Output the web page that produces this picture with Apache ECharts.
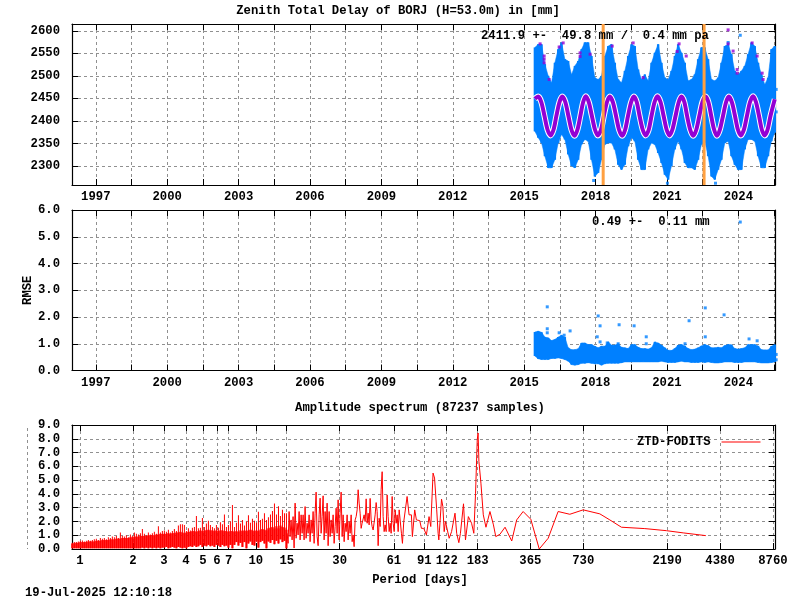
<!DOCTYPE html>
<html>
<head>
<meta charset="utf-8">
<style>
  html, body { margin: 0; padding: 0; background: #fff; }
  #chart { width: 800px; height: 600px; }
</style>
<script src="https://cdn.jsdelivr.net/npm/echarts@6/dist/echarts.min.js"></script>
</head>
<body>
<div id="chart"></div>
<script>
const YEAR_TICKS = [1997, 1998.5, 2000, 2001.5, 2003, 2004.5, 2006, 2007.5, 2009, 2010.5, 2012, 2013.5, 2015, 2016.5, 2018, 2019.5, 2021, 2022.5, 2024, 2025.5];
const YEAR_LABELS = [1997, 2000, 2003, 2006, 2009, 2012, 2015, 2018, 2021, 2024];
const ZTD_TICKS = [2300, 2350, 2400, 2450, 2500, 2550, 2600];
const RMSE_TICKS = [0, 1, 2, 3, 4, 5, 6];
const AMP_TICKS = [0, 1, 2, 3, 4, 5, 6, 7, 8, 9];
const PERIOD_TICKS = [1, 2, 3, 4, 5, 6, 7, 10, 15, 30, 61, 91, 122, 183, 365, 730, 2190, 4380, 8760];

const bandYears = [2015.45, 2015.59, 2015.73, 2015.87, 2016.01, 2016.15, 2016.29, 2016.43, 2016.57, 2016.71, 2016.85, 2016.99, 2017.13, 2017.27, 2017.41, 2017.55, 2017.69, 2017.83, 2017.97, 2018.11, 2018.25, 2018.39, 2018.53, 2018.67, 2018.81, 2018.95, 2019.09, 2019.23, 2019.37, 2019.51, 2019.65, 2019.79, 2019.93, 2020.07, 2020.21, 2020.35, 2020.49, 2020.63, 2020.77, 2020.91, 2021.05, 2021.19, 2021.33, 2021.47, 2021.61, 2021.75, 2021.89, 2022.03, 2022.17, 2022.31, 2022.45, 2022.59, 2022.73, 2022.87, 2023.01, 2023.15, 2023.29, 2023.43, 2023.57, 2023.71, 2023.85, 2023.99, 2024.13, 2024.27, 2024.41, 2024.55, 2024.69, 2024.83, 2024.97, 2025.11, 2025.25, 2025.39, 2025.53];
const ztdHigh = [2563, 2570, 2570, 2526, 2500, 2485, 2529, 2559, 2574, 2537, 2533, 2503, 2522, 2533, 2559, 2574, 2574, 2544, 2496, 2492, 2500, 2544, 2566, 2570, 2529, 2492, 2485, 2511, 2544, 2570, 2566, 2514, 2492, 2503, 2489, 2529, 2551, 2570, 2529, 2496, 2492, 2511, 2544, 2570, 2551, 2529, 2489, 2492, 2503, 2537, 2563, 2563, 2537, 2492, 2489, 2496, 2529, 2566, 2570, 2548, 2511, 2503, 2511, 2522, 2548, 2574, 2566, 2529, 2503, 2481, 2496, 2559, 2566];
const ztdLow = [2377, 2363, 2351, 2322, 2296, 2296, 2314, 2351, 2370, 2359, 2326, 2300, 2296, 2314, 2348, 2359, 2355, 2314, 2277, 2285, 2314, 2348, 2351, 2351, 2337, 2303, 2292, 2303, 2344, 2363, 2355, 2314, 2292, 2292, 2337, 2351, 2348, 2329, 2307, 2281, 2270, 2300, 2337, 2355, 2337, 2307, 2296, 2296, 2292, 2314, 2348, 2355, 2322, 2277, 2270, 2292, 2314, 2351, 2355, 2322, 2303, 2292, 2292, 2337, 2359, 2359, 2355, 2322, 2296, 2296, 2322, 2355, 2374];
const meanYears = [2015.45, 2015.59, 2015.72, 2015.85, 2015.98, 2016.11, 2016.23, 2016.35, 2016.48, 2016.60, 2016.73, 2016.86, 2016.99, 2017.12, 2017.24, 2017.36, 2017.48, 2017.59, 2017.72, 2017.85, 2017.98, 2018.10, 2018.23, 2018.35, 2018.48, 2018.60, 2018.73, 2018.86, 2018.99, 2019.12, 2019.24, 2019.36, 2019.49, 2019.61, 2019.73, 2019.85, 2019.98, 2020.10, 2020.23, 2020.35, 2020.48, 2020.60, 2020.73, 2020.86, 2020.99, 2021.11, 2021.23, 2021.36, 2021.49, 2021.61, 2021.73, 2021.85, 2021.98, 2022.10, 2022.23, 2022.36, 2022.49, 2022.62, 2022.74, 2022.86, 2022.98, 2023.10, 2023.22, 2023.35, 2023.48, 2023.60, 2023.73, 2023.86, 2023.98, 2024.10, 2024.23, 2024.36, 2024.49, 2024.62, 2024.74, 2024.87, 2024.99, 2025.11, 2025.23, 2025.35, 2025.53];
const meanValues = [2449, 2454, 2442, 2412, 2381, 2368, 2380, 2410, 2441, 2454, 2442, 2411, 2380, 2367, 2381, 2411, 2442, 2455, 2441, 2410, 2380, 2368, 2381, 2412, 2442, 2454, 2441, 2411, 2380, 2367, 2380, 2410, 2441, 2454, 2442, 2411, 2381, 2368, 2380, 2411, 2442, 2455, 2442, 2411, 2380, 2368, 2381, 2411, 2441, 2454, 2442, 2410, 2380, 2367, 2380, 2411, 2442, 2454, 2442, 2411, 2381, 2367, 2380, 2410, 2441, 2454, 2441, 2411, 2381, 2368, 2380, 2411, 2442, 2455, 2442, 2411, 2380, 2368, 2381, 2411, 2448];
const purpleYears = [2015.67, 2015.84, 2015.84, 2015.84, 2016.05, 2016.47, 2016.64, 2017.35, 2017.35, 2017.77, 2018.70, 2019.58, 2020.00, 2021.43, 2021.51, 2021.81, 2023.57, 2023.57, 2023.78, 2023.95, 2023.95, 2024.58, 2024.79, 2025.00, 2025.04];
const purpleValues = [2571, 2544, 2537, 2529, 2492, 2564, 2573, 2551, 2543, 2548, 2566, 2573, 2496, 2554, 2571, 2544, 2602, 2571, 2555, 2514, 2506, 2573, 2544, 2506, 2492];
const blueYears = [2024.08, 2023.57, 2025.59, 2025.59, 2017.92, 2023.04, 2021.02];
const blueValues = [2590, 2574, 2470, 2420, 2268, 2262, 2262];
const eventYears = [2018.32, 2022.56];

const rmseHigh = [1.44, 1.47, 1.43, 1.25, 1.22, 1.12, 1.16, 1.25, 1.32, 1.25, 0.85, 0.78, 0.78, 0.81, 1.03, 1.03, 0.97, 0.97, 0.91, 0.85, 0.91, 0.91, 1.07, 0.95, 0.95, 1.00, 0.87, 0.85, 0.82, 0.97, 0.97, 0.87, 0.82, 0.82, 0.80, 0.85, 1.07, 1.03, 0.95, 0.85, 0.76, 0.75, 0.82, 0.95, 0.97, 0.92, 0.82, 0.78, 0.80, 0.85, 0.92, 0.97, 0.93, 0.85, 0.85, 0.87, 0.85, 0.93, 0.97, 0.96, 0.82, 0.80, 0.82, 0.85, 0.97, 0.97, 0.97, 0.92, 0.78, 0.77, 0.77, 0.91, 0.97];
const rmseLow = [0.54, 0.44, 0.41, 0.41, 0.41, 0.45, 0.45, 0.47, 0.45, 0.41, 0.35, 0.22, 0.20, 0.22, 0.27, 0.27, 0.29, 0.27, 0.25, 0.25, 0.20, 0.25, 0.27, 0.27, 0.27, 0.27, 0.29, 0.32, 0.32, 0.32, 0.32, 0.32, 0.32, 0.32, 0.32, 0.32, 0.32, 0.32, 0.35, 0.32, 0.30, 0.30, 0.30, 0.32, 0.35, 0.32, 0.32, 0.30, 0.30, 0.30, 0.32, 0.30, 0.32, 0.30, 0.28, 0.28, 0.30, 0.32, 0.32, 0.32, 0.30, 0.30, 0.30, 0.32, 0.32, 0.32, 0.32, 0.30, 0.28, 0.28, 0.28, 0.30, 0.32];
const rmseOutYears = [2015.97, 2018.11, 2022.61, 2023.40, 2021.93, 2018.19, 2018.99, 2019.62, 2015.97, 2015.97, 2016.47, 2016.68, 2016.93, 2018.07, 2018.19, 2018.49, 2018.95, 2020.13, 2020.13, 2021.76, 2022.61, 2024.45, 2024.79, 2024.08, 2025.59, 2025.59];
const rmseOutValues = [2.38, 2.04, 2.34, 2.08, 1.86, 1.67, 1.71, 1.67, 1.56, 1.41, 1.41, 1.32, 1.48, 1.26, 1.07, 1.03, 1.00, 1.26, 1.00, 1.00, 1.26, 1.18, 1.11, 5.55, 0.60, 0.40];

const specBandPeriods = [0.904, 0.928, 0.953, 0.978, 1.004, 1.031, 1.058, 1.086, 1.115, 1.145, 1.175, 1.206, 1.238, 1.271, 1.305, 1.340, 1.375, 1.412, 1.449, 1.488, 1.527, 1.568, 1.610, 1.652, 1.696, 1.741, 1.788, 1.835, 1.884, 1.934, 1.985, 2.038, 2.092, 2.148, 2.205, 2.263, 2.323, 2.385, 2.448, 2.513, 2.580, 2.648, 2.719, 2.791, 2.865, 2.941, 3.019, 3.100, 3.182, 3.266, 3.353, 3.442, 3.534, 3.627, 3.724, 3.823, 3.924, 4.029, 4.136, 4.246, 4.358, 4.474, 4.593, 4.715, 4.840, 4.969, 5.101, 5.236, 5.375, 5.518, 5.665, 5.815, 5.970, 6.128, 6.291, 6.458, 6.630, 6.806, 6.987, 7.173, 7.363, 7.559, 7.760, 7.966, 8.178, 8.395, 8.618, 8.847, 9.082, 9.323, 9.571, 9.825, 10.09, 10.35, 10.63, 10.91, 11.20, 11.50, 11.80, 12.12, 12.44, 12.77, 13.11, 13.46, 13.81, 14.18, 14.56, 14.94];
const specBandHigh = [0.45, 0.50, 0.50, 0.55, 0.60, 0.62, 0.55, 0.60, 0.65, 0.60, 0.65, 0.70, 0.75, 0.65, 0.80, 0.75, 0.80, 0.70, 0.85, 0.80, 0.90, 0.85, 0.95, 0.80, 1.20, 0.95, 0.90, 1.00, 0.85, 1.05, 0.95, 1.20, 1.10, 1.05, 1.15, 1.45, 1.10, 1.00, 1.20, 1.05, 1.15, 1.25, 1.10, 1.65, 1.20, 1.30, 1.35, 1.25, 1.40, 1.20, 1.30, 1.45, 1.30, 1.70, 1.80, 1.80, 1.75, 1.30, 1.50, 1.35, 1.55, 1.60, 2.40, 1.50, 1.55, 2.25, 1.60, 1.85, 2.05, 1.75, 1.60, 1.50, 1.75, 1.55, 1.95, 1.80, 2.50, 1.60, 1.75, 2.00, 3.20, 1.60, 1.90, 2.45, 1.85, 2.10, 1.70, 2.00, 2.45, 1.90, 2.20, 2.05, 1.90, 2.70, 2.10, 2.20, 2.60, 2.10, 2.30, 2.50, 2.75, 3.30, 2.50, 3.10, 2.40, 2.85, 2.60, 2.60];
const specBandBody = [0.40, 0.42, 0.45, 0.45, 0.50, 0.50, 0.50, 0.50, 0.55, 0.55, 0.55, 0.55, 0.60, 0.60, 0.60, 0.65, 0.65, 0.65, 0.65, 0.70, 0.70, 0.70, 0.75, 0.75, 0.75, 0.80, 0.80, 0.80, 0.80, 0.85, 0.85, 0.90, 0.90, 0.90, 0.95, 0.95, 0.95, 0.95, 1.00, 1.00, 1.00, 1.00, 1.05, 1.05, 1.10, 1.10, 1.10, 1.10, 1.15, 1.10, 1.15, 1.15, 1.20, 1.20, 1.25, 1.20, 1.15, 1.20, 1.25, 1.25, 1.30, 1.30, 1.25, 1.30, 1.35, 1.30, 1.35, 1.35, 1.40, 1.35, 1.35, 1.30, 1.35, 1.30, 1.35, 1.35, 1.30, 1.30, 1.25, 1.30, 1.30, 1.25, 1.30, 1.25, 1.35, 1.30, 1.35, 1.30, 1.35, 1.40, 1.35, 1.30, 1.35, 1.30, 1.40, 1.45, 1.40, 1.35, 1.50, 1.55, 1.60, 1.50, 1.65, 1.50, 1.70, 1.60, 1.55, 1.40];
const specBandLow = [0.05, 0.05, 0.05, 0.05, 0.05, 0.05, 0.05, 0.05, 0.05, 0.05, 0.05, 0.05, 0.05, 0.05, 0.05, 0.05, 0.05, 0.05, 0.05, 0.05, 0.05, 0.05, 0.05, 0.05, 0.05, 0.05, 0.05, 0.05, 0.05, 0.05, 0.05, 0.05, 0.05, 0.05, 0.05, 0.10, 0.05, 0.10, 0.05, 0.10, 0.05, 0.10, 0.05, 0.10, 0.05, 0.10, 0.10, 0.15, 0.05, 0.10, 0.15, 0.10, 0.05, 0.15, 0.10, 0.05, 0.10, 0.05, 0.15, 0.20, 0.15, 0.25, 0.15, 0.20, 0.30, 0.15, 0.25, 0.20, 0.30, 0.20, 0.25, 0.15, 0.30, 0.25, 0.15, 0.30, 0.20, 0.25, 0.10, 0.30, 0.05, 0.30, 0.50, 0.25, 0.45, 0.15, 0.50, 0.05, 0.40, 0.55, 0.30, 0.25, 0.55, 0.10, 0.50, 0.60, 0.40, 0.05, 0.55, 0.45, 0.65, 0.35, 0.60, 0.40, 0.70, 0.50, 0.60, 0.05];
const specPeriods = [15.07, 15.27, 15.47, 15.67, 15.88, 16.09, 16.30, 16.52, 16.74, 16.96, 17.18, 17.41, 17.64, 17.87, 18.11, 18.35, 18.59, 18.83, 19.08, 19.33, 19.59, 19.85, 20.11, 20.37, 20.64, 20.91, 21.19, 21.47, 21.75, 22.04, 22.33, 22.63, 22.93, 23.23, 23.53, 23.84, 24.16, 24.48, 24.80, 25.13, 25.46, 25.80, 26.14, 26.48, 26.83, 27.19, 27.54, 27.91, 28.28, 28.65, 29.03, 29.41, 29.80, 30.19, 30.59, 31.00, 31.40, 31.82, 32.24, 32.66, 33.09, 33.53, 33.97, 34.42, 34.88, 35.34, 35.80, 36.27, 36.75, 37.24, 37.73, 38.23, 38.73, 39.24, 39.76, 40.28, 40.81, 41.35, 41.90, 42.45, 43.01, 43.58, 44.15, 44.74, 45.33, 45.92, 46.53, 47.15, 47.77, 48.40, 49.04, 49.68, 50.34, 51.00, 51.68, 52.36, 53.05, 53.75, 54.46, 55.18, 55.90, 56.64, 57.39, 58.15, 58.91, 59.69, 60.48, 61.28, 62.09, 62.91, 63.74, 64.58, 65.43, 66.0, 67.4, 68.3, 69.5, 71.3, 72.6, 74.5, 76.8, 77.8, 80.2, 82.0, 85.7, 87.6, 90.3, 93.5, 96.8, 99.0, 102, 104, 107, 109, 110, 114, 116, 118, 120, 123, 126, 130, 136, 139, 143, 146, 152, 156, 162, 165, 169, 174, 178, 182, 184, 186, 191, 197, 204, 215, 225, 232, 245, 262, 286, 305, 332, 367, 410, 461, 525, 612, 729, 907, 1034, 1204, 1635, 2172, 2703, 3637];
const specAmps = [1.14, 0.41, 2.72, 0.90, 2.11, 0.66, 2.35, 0.07, 3.33, 0.78, 1.87, 1.02, 2.72, 0.66, 2.48, 1.14, 2.48, 0.66, 3.08, 0.78, 1.87, 1.14, 2.48, 0.53, 2.11, 1.14, 2.72, 0.41, 2.60, 4.13, 0.90, 0.24, 2.48, 3.69, 1.14, 2.35, 3.86, 0.66, 2.72, 1.14, 3.33, 0.24, 2.72, 0.90, 2.11, 1.14, 2.48, 0.41, 1.63, 2.96, 1.14, 3.57, 0.66, 2.60, 4.13, 0.90, 2.48, 0.53, 1.87, 1.26, 2.48, 0.66, 1.99, 1.14, 2.48, 0.53, 1.02, 0.17, 2.11, 2.35, 2.84, 4.30, 3.33, 2.60, 1.50, 1.87, 1.75, 2.48, 1.99, 3.64, 1.87, 2.60, 1.75, 3.67, 2.11, 1.63, 1.38, 1.26, 2.48, 3.37, 2.72, 0.24, 2.23, 1.63, 4.34, 5.61, 2.35, 1.26, 1.75, 1.26, 3.93, 2.35, 1.26, 1.87, 1.14, 3.81, 1.87, 1.26, 2.84, 1.87, 2.48, 1.26, 2.84, 2.84, 1.14, 0.41, 1.99, 1.99, 3.81, 2.48, 2.48, 0.90, 2.84, 2.11, 2.06, 1.50, 1.50, 1.02, 2.35, 1.63, 5.51, 5.15, 2.84, 1.14, 0.66, 3.62, 3.08, 1.26, 1.99, 2.11, 0.78, 1.26, 2.60, 1.14, 0.46, 1.14, 3.28, 0.66, 2.35, 2.48, 1.87, 1.14, 4.05, 7.94, 8.42, 6.36, 4.78, 2.48, 1.58, 2.72, 1.75, 0.90, 1.07, 1.58, 0.58, 2.11, 2.72, 2.16, 0.00, 0.78, 2.72, 2.52, 2.84, 2.55, 2.11, 1.58, 1.48, 1.33, 1.17, 0.97];

const FONT = "'Liberation Mono', monospace";
const FONT_SIZE = 12.25;
const BLUE = "#0080ff";
const PURPLE = "#9400d3";
const ORANGE = "#ffa040";
const RED = "#ff0000";
const GRID_COLOR = "#909090";

function zip(xs, ys) {
  return xs.map((x, i) => [x, ys[i]]);
}

// filled quad from one sampled column to the next
function envelopeSeries(index, xs, lows, highs, color) {
  const data = xs.slice(0, -1).map((x, i) => [x, lows[i], highs[i], xs[i + 1], lows[i + 1], highs[i + 1]]);
  return {
    type: "custom",
    xAxisIndex: index,
    yAxisIndex: index,
    data: data,
    encode: { x: [0, 3], y: [1, 2, 4, 5] },
    silent: true,
    renderItem: (params, api) => ({
      type: "polygon",
      shape: {
        points: [
          api.coord([api.value(0), api.value(2)]),
          api.coord([api.value(3), api.value(5)]),
          api.coord([api.value(3), api.value(4)]),
          api.coord([api.value(0), api.value(1)]),
        ],
      },
      style: { fill: color, stroke: color, lineWidth: 0.5 },
    }),
  };
}

function columnSeries(index, xs, lows, highs, width, color) {
  return {
    type: "custom",
    xAxisIndex: index,
    yAxisIndex: index,
    data: xs.map((x, i) => [x, lows[i], highs[i]]),
    encode: { x: 0, y: [1, 2] },
    silent: true,
    renderItem: (params, api) => {
      const top = api.coord([api.value(0), api.value(2)]);
      const bottom = api.coord([api.value(0), api.value(1)]);
      return {
        type: "rect",
        shape: { x: top[0] - width / 2, y: top[1], width: width, height: bottom[1] - top[1] },
        style: { fill: color },
      };
    },
  };
}

function dotSeries(index, data, color) {
  return {
    type: "scatter",
    xAxisIndex: index,
    yAxisIndex: index,
    symbol: "rect",
    symbolSize: 3,
    clip: false,
    itemStyle: { color: color },
    data: data,
    silent: true,
  };
}

function lineSeries(index, data, color, width, extra) {
  return Object.assign({
    type: "line",
    xAxisIndex: index,
    yAxisIndex: index,
    symbol: "none",
    lineStyle: { color: color, width: width },
    itemStyle: { color: color },
    data: data,
    silent: true,
  }, extra || {});
}

function xAxis(gridIndex, position, cfg) {
  const primary = position === "bottom";
  return Object.assign({
    type: "value",
    gridIndex: gridIndex,
    position: position,
    axisLine: { show: true, onZero: false, lineStyle: { color: "#000", width: 1.2 } },
    axisTick: { show: true, inside: true, length: 6, customValues: cfg.ticks, lineStyle: { color: "#000" } },
    axisLabel: {
      show: primary,
      customValues: cfg.labels,
      margin: 6,
      hideOverlap: false,
      showMinLabel: true,
      showMaxLabel: true,
      color: "#000",
      fontFamily: FONT,
      fontWeight: "bold",
      fontSize: FONT_SIZE,
      formatter: (v) => String(v),
    },
    splitLine: { show: primary, lineStyle: { color: GRID_COLOR, type: [3, 3], width: 1 } },
    minorTick: { show: false },
  }, cfg.axis);
}

function yAxis(gridIndex, position, cfg) {
  const primary = position === "left";
  return Object.assign({
    type: "value",
    gridIndex: gridIndex,
    position: position,
    axisLine: { show: true, onZero: false, lineStyle: { color: "#000", width: 1.2 } },
    axisTick: { show: true, inside: true, length: 6, customValues: cfg.ticks, lineStyle: { color: "#000" } },
    axisLabel: {
      show: primary,
      customValues: cfg.ticks,
      margin: 12,
      showMinLabel: true,
      showMaxLabel: true,
      color: "#000",
      fontFamily: FONT,
      fontWeight: "bold",
      fontSize: FONT_SIZE,
      formatter: cfg.format,
    },
    splitLine: { show: primary, lineStyle: { color: GRID_COLOR, type: [3, 3], width: 1 } },
  }, cfg.axis);
}

function text(label, left, top, align) {
  return {
    text: label,
    left: left,
    top: top,
    textAlign: align || "left",
    padding: 0,
    textStyle: { color: "#000", fontFamily: FONT, fontWeight: "bold", fontSize: FONT_SIZE, lineHeight: 12 },
  };
}

const nameStyle = { color: "#000", fontFamily: FONT, fontWeight: "bold", fontSize: FONT_SIZE };
const yearCfg = { ticks: YEAR_TICKS, labels: YEAR_LABELS, axis: { min: 1996, max: 2025.54 } };
const periodCfg = { ticks: PERIOD_TICKS, labels: PERIOD_TICKS, axis: { type: "log", logBase: 10, min: 0.9, max: 9000 } };
const ztdCfg = { ticks: ZTD_TICKS, format: (v) => String(v), axis: { min: 2258, max: 2615 } };
const rmseCfg = { ticks: RMSE_TICKS, format: (v) => v.toFixed(1), axis: { min: 0, max: 6, name: "RMSE", nameLocation: "middle", nameGap: 38, nameRotate: 90, nameMoveOverlap: false, nameTextStyle: nameStyle } };
const rmseMirror = { ticks: RMSE_TICKS, format: (v) => v.toFixed(1), axis: { min: 0, max: 6 } };
const ampCfg = { ticks: AMP_TICKS, format: (v) => v.toFixed(1), axis: { min: 0, max: 9 } };

const chart = echarts.init(document.getElementById("chart"), null, { renderer: "canvas" });

const option = {
  animation: false,
  backgroundColor: "#fff",
  title: [
    text("Zenith Total Delay of BORJ (H=53.0m) in [mm]", 398, 5, "center"),
    text("2411.9 +-  49.8 mm /  0.4 mm pa", 481, 30),
    text("0.49 +-  0.11 mm", 592, 216),
    text("Amplitude spectrum (87237 samples)", 420, 402, "center"),
    text("Period [days]", 420, 574, "center"),
    text("19-Jul-2025 12:10:18", 25, 587),
  ],
  legend: {
    data: ["ZTD-FODITS"],
    left: 637,
    top: 436,
    padding: 0,
    align: "right",
    icon: "rect",
    itemWidth: 39,
    itemHeight: 1,
    textStyle: { color: "#000", fontFamily: FONT, fontWeight: "bold", fontSize: FONT_SIZE, padding: [0, 6, 0, 0] },
  },
  // stray dashed tick column left of the spectrum, it sits outside the log axis range
  graphic: [{
    type: "line",
    silent: true,
    shape: { x1: 27.5, y1: 428, x2: 27.5, y2: 549 },
    style: { stroke: GRID_COLOR, lineWidth: 1, lineDash: [3, 3] },
  }],
  grid: [
    { left: 72, width: 703, top: 24, height: 161 },
    { left: 72, width: 703, top: 210, height: 160.5 },
    { left: 72, width: 703, top: 425, height: 124 },
  ],
  xAxis: [
    xAxis(0, "bottom", yearCfg),
    xAxis(1, "bottom", yearCfg),
    xAxis(2, "bottom", periodCfg),
    xAxis(0, "top", yearCfg),
    xAxis(1, "top", yearCfg),
    xAxis(2, "top", periodCfg),
  ],
  yAxis: [
    yAxis(0, "left", ztdCfg),
    yAxis(1, "left", rmseCfg),
    yAxis(2, "left", ampCfg),
    yAxis(0, "right", ztdCfg),
    yAxis(1, "right", rmseMirror),
    yAxis(2, "right", ampCfg),
  ],
  series: [
    envelopeSeries(0, bandYears, ztdLow, ztdHigh, BLUE),
    columnSeries(0, bandYears, ztdLow, ztdHigh, 2.4, BLUE),
    dotSeries(0, zip(blueYears, blueValues), BLUE),
    dotSeries(0, zip(purpleYears, purpleValues), PURPLE),
    lineSeries(0, zip(meanYears, meanValues), "#fff", 6, { smooth: 0.3 }),
    lineSeries(0, zip(meanYears, meanValues), PURPLE, 4, { smooth: 0.3 }),
    lineSeries(0, [[eventYears[0], 2258], [eventYears[0], 2615]], ORANGE, 3, { clip: false }),
    lineSeries(0, [[eventYears[1], 2258], [eventYears[1], 2615]], ORANGE, 3, { clip: false }),
    envelopeSeries(1, bandYears, rmseLow, rmseHigh, BLUE),
    columnSeries(1, bandYears, rmseLow, rmseHigh, 2.4, BLUE),
    dotSeries(1, zip(rmseOutYears, rmseOutValues), BLUE),
    columnSeries(2, specBandPeriods, specBandLow, specBandBody, 2.2, RED),
    columnSeries(2, specBandPeriods, specBandLow, specBandHigh, 1, RED),
    lineSeries(2, zip(specPeriods, specAmps), RED, 1, { name: "ZTD-FODITS" }),
  ],
};

chart.setOption(option);
</script>
</body>
</html>
